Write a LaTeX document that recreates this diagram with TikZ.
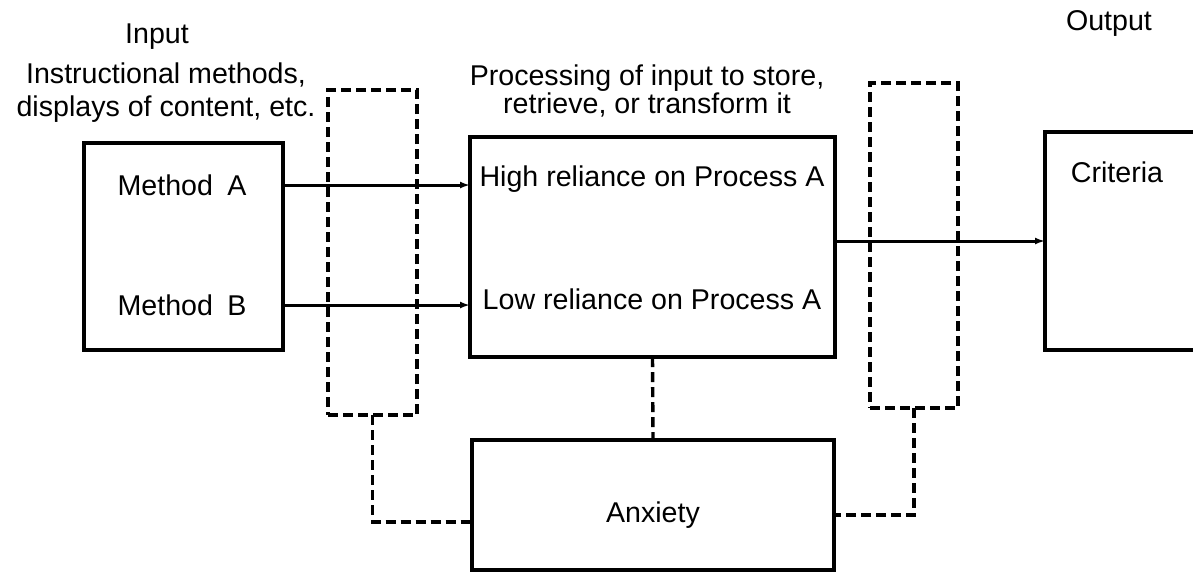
\documentclass[tikz,border=0pt]{standalone}
\usepackage{fontspec}
\setmainfont{Liberation Sans}
\usepackage{tikz}
\usetikzlibrary{arrows.meta}

\begin{document}
\begin{tikzpicture}[x=0.5pt, y=-0.5pt,
    solidbox/.style={draw, line width=2pt, outer sep=0pt, inner sep=0pt},
    modbox/.style={draw, line width=1.7pt, dash pattern=on 5pt off 2.5pt, outer sep=0pt, inner sep=0pt},
    flow/.style={line width=1.5pt, -{Latex[length=5pt, width=3.5pt]}},
    link/.style={line width=1.7pt, dash pattern=on 5pt off 2.5pt},
    lbl/.style={font=\fontsize{14.3}{14}\selectfont, inner sep=0pt}]
        \useasboundingbox (0,0) rectangle (1193,575);

        % Headings
        \node[lbl] (input_lbl) at (157, 37) {Input};
        \node[lbl] (output_lbl) at (1109, 23) {Output};
        \node[lbl, align=center, font=\fontsize{14.3}{16.5}\selectfont] (instr_lbl) at (166, 93)
            {Instructional methods,\\displays of content, etc.};
        \node[lbl, align=center] (proc_lbl) at (647, 91)
            {Processing of input to store,\\retrieve, or transform it};

        % Solid boxes
        \node[solidbox, minimum width=99.5pt, minimum height=103.5pt] (method_box) at (183.5, 246.5) {};
        \node[solidbox, minimum width=182.5pt, minimum height=110pt] (process_box) at (652.5, 247) {};
        \node[solidbox, minimum width=85pt, minimum height=109pt] (criteria_box) at (1130, 241) {};
        \node[solidbox, minimum width=181pt, minimum height=65pt] (anxiety_box) at (653, 505) {};

        % Dashed moderator boxes
        \node[modbox, minimum width=44.5pt, minimum height=162.5pt] (left_mod) at (372.5, 252.5) {};
        \node[modbox, minimum width=44pt, minimum height=162.5pt] (right_mod) at (914, 245.5) {};

        % Box texts
        \node[lbl] (method_a) at (182, 185) {Method\enspace A};
        \node[lbl] (method_b) at (182, 305) {Method\enspace B};
        \node[lbl] (high_a) at (652, 179) {High reliance on Process A};
        \node[lbl] (low_a) at (652, 299) {Low reliance on Process A};
        \node[lbl] (criteria_lbl) at (1117, 172) {Criteria};
        \node[lbl] (anxiety_lbl) at (653, 515) {Anxiety};

        % Main flow
        \draw[flow] (method_box.east |- method_a) -- (process_box.west |- method_a);
        \draw[flow] (method_box.east |- method_b) -- (process_box.west |- method_b);
        \draw[flow] (process_box.east |- criteria_box.west) -- (criteria_box.west);

        % Anxiety links
        \draw[link] (process_box.south) -- (anxiety_box.north);
        \draw[link] (left_mod.south) |- ([yshift=-8.5pt]anxiety_box.west);
        \draw[link] (right_mod.south) |- ([yshift=-5pt]anxiety_box.east);
      \end{tikzpicture}
\end{document}
